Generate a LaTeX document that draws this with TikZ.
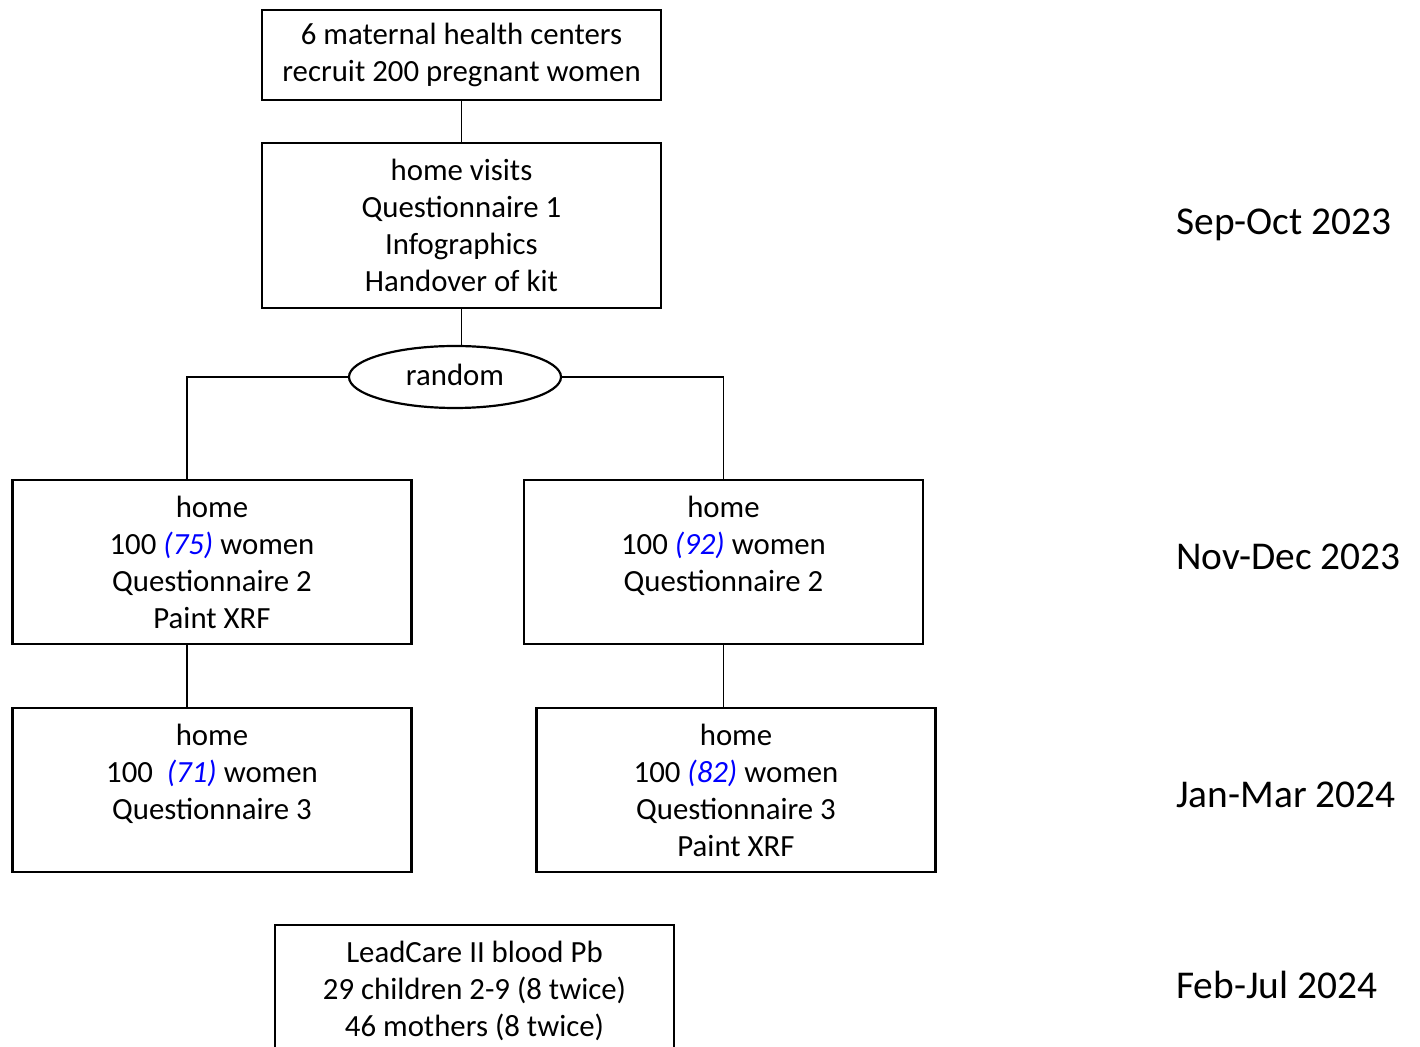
\documentclass[tikz,border=0pt]{standalone}
\usepackage{fontspec}
\setmainfont{Carlito}
\usetikzlibrary{shapes.geometric}

\tikzset{
    box/.style={draw, line width=1.1pt, minimum width=199.5pt, align=center, inner sep=0pt,
        font=\fontsize{15.4}{18.5}\selectfont},
    link/.style={line width=0.6pt},
    period/.style={anchor=west, inner sep=0pt, font=\fontsize{19.7}{22}\selectfont},
}
\newcommand{\kept}[1]{\textcolor{blue}{\textit{(#1)}}}

\begin{document}
\begin{tikzpicture}[x=0.5pt, y=-0.5pt]

\useasboundingbox (0,0) rectangle (1420,1047);
\clip (0,0) rectangle (1420,1047);

% flow boxes
\node[box, minimum height=45pt] (centers) at (461.5,55) {6 maternal health centers\\recruit 200 pregnant women};
\node[box, minimum height=82.5pt] (visits) at (461.5,225.5) {home visits\\Questionnaire 1\\Infographics\\Handover of kit};
\node[draw, ellipse, line width=1.1pt, minimum width=106pt, minimum height=31pt, inner sep=0pt,
    font=\fontsize{15.4}{18.5}\selectfont] (rnd) at (455,377) {\raisebox{2pt}{random}};

\node[box, minimum height=82pt] (homeA) at (212,562) {home\\100 \kept{75} women\\Questionnaire 2\\Paint XRF};
\node[box, minimum height=82pt] (homeB) at (723.5,562) {home\\100 \kept{92} women\\Questionnaire 2\\\mbox{}};
\node[box, minimum height=82pt] (homeC) at (212,790) {home\\100~ \kept{71} women\\Questionnaire 3\\\mbox{}};
\node[box, minimum height=82pt] (homeD) at (736,790) {home\\100 \kept{82} women\\Questionnaire 3\\Paint XRF};

\node[box, minimum height=82pt, anchor=north] (lead) at (474.5,924) {LeadCare II blood Pb\\29 children 2-9 (8 twice)\\46 mothers (8 twice)\\\mbox{}};

% connectors
\draw[link] (centers) -- (visits);
\draw[link] (visits) -- (visits.south |- rnd.north);
\draw[link] (rnd.west) -| ([xshift=-12.5pt]homeA.north);
\draw[link] (rnd.east) -| (homeB.north);
\draw[link] ([xshift=-12.5pt]homeA.south) -- ([xshift=-12.5pt]homeC.north);
\draw[link] (homeB.south) -- (homeB.south |- homeD.north);

% time periods
\node[period] (sep) at (1176,225) {Sep-Oct 2023};
\node[period] (nov) at (1176,557) {Nov-Dec 2023};
\node[period] (jan) at (1176,795) {Jan-Mar 2024};
\node[period] (feb) at (1176,985) {Feb-Jul 2024};

\end{tikzpicture}
\end{document}
